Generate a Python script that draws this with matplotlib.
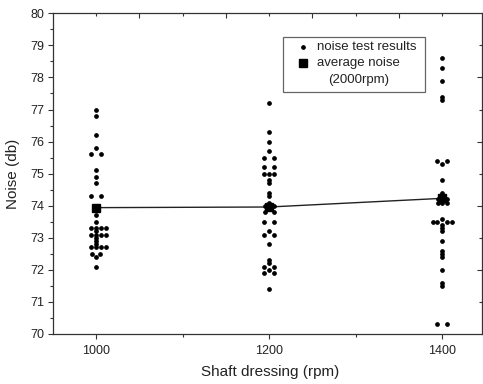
import matplotlib
matplotlib.use("Agg")
import matplotlib.pyplot as plt
from matplotlib.patches import Rectangle
from matplotlib.ticker import MultipleLocator, FixedLocator

plt.rcParams["font.family"] = ["Liberation Sans", "DejaVu Sans"]

# noise test results, (rpm, db); side offsets mark overlapping readings
rpm_1000 = [1000, 1000, 1000, 1000, 994.5, 1005.5, 1000, 1000, 1000, 994.5, 1005.5,
            1000, 1000, 994.5, 1000, 1005.5, 1011, 1000, 994.5, 1000, 1005.5, 1011,
            1000, 1000, 1000, 994.5, 1000, 1005.5, 1011, 995.5, 1004.5, 1000, 1000]
db_1000 = [77.0, 76.8, 76.2, 75.8, 75.6, 75.6, 75.1, 74.9, 74.7, 74.3, 74.3,
           73.7, 73.5, 73.3, 73.3, 73.3, 73.3, 73.2, 73.1, 73.1, 73.1, 73.1,
           73.0, 72.9, 72.8, 72.7, 72.7, 72.7, 72.7, 72.5, 72.5, 72.4, 72.1]

rpm_1200 = [1200, 1200, 1200, 1200, 1194.5, 1205.5, 1194.5, 1205.5, 1194.5, 1200, 1205.5,
            1200, 1200, 1200, 1200, 1200, 1200, 1195, 1205, 1200, 1195, 1205,
            1194.5, 1205.5, 1200, 1194.5, 1205.5, 1200, 1200, 1200, 1194.5, 1205.5,
            1200, 1194.5, 1205.5, 1200]
db_1200 = [77.2, 76.3, 76.0, 75.7, 75.5, 75.5, 75.2, 75.2, 75.0, 75.0, 75.0,
           74.8, 74.7, 74.4, 74.3, 74.1, 74.0, 74.0, 74.0, 73.9, 73.8, 73.8,
           73.5, 73.5, 73.2, 73.1, 73.1, 72.8, 72.3, 72.2, 72.1, 72.1,
           72.0, 71.9, 71.9, 71.4]

rpm_1400 = [1400, 1400, 1400, 1400, 1400, 1394.5, 1405.5, 1400, 1400, 1400, 1400,
            1395, 1405, 1395, 1400, 1405, 1400, 1389, 1394.5, 1405.5, 1411,
            1400, 1400, 1400, 1400, 1400, 1400, 1400, 1400, 1400, 1400,
            1394.5, 1405.5]
db_1400 = [78.6, 78.3, 77.9, 77.4, 77.3, 75.4, 75.4, 75.3, 74.8, 74.4, 74.3,
           74.2, 74.2, 74.1, 74.1, 74.1, 73.6, 73.5, 73.5, 73.5, 73.5,
           73.4, 73.3, 73.2, 72.9, 72.6, 72.5, 72.4, 72.0, 71.6, 71.5,
           70.3, 70.3]

# average noise (2000rpm)
avg_rpm = [1000, 1200, 1400]
avg_db = [73.94, 73.96, 74.23]

x_ticks = [1000, 1200, 1400]

fig = plt.figure(figsize=(4.83, 3.84), dpi=100)
ax = fig.add_axes([53 / 483, 50 / 384, 429 / 483, 320.7 / 384])

ax.plot(avg_rpm, avg_db, color="#222222", lw=1.0, zorder=2)
for xs, ys in [(rpm_1000, db_1000), (rpm_1200, db_1200), (rpm_1400, db_1400)]:
    ax.plot(xs, ys, ls="none", marker="o", ms=2.4, color="black", zorder=3)
ax.plot(avg_rpm, avg_db, ls="none", marker="s", ms=6, color="black", zorder=4)

ax.set_xlim(950, 1446)
ax.set_ylim(70, 80)

ax.xaxis.set_major_locator(FixedLocator(x_ticks))
ax.xaxis.set_minor_locator(FixedLocator([1100, 1300]))
ax.yaxis.set_major_locator(MultipleLocator(1))
ax.yaxis.set_minor_locator(MultipleLocator(0.5))
ax.tick_params(which="major", direction="out", length=3.5, width=0.8,
               color="#333333", labelsize=9, labelcolor="#222222")
ax.tick_params(which="minor", direction="out", length=2.2, width=0.8, color="#333333")
ax.tick_params(axis="x", pad=4.5)
ax.tick_params(axis="y", pad=3)

for sp in ax.spines.values():
    sp.set_color("#333333")
    sp.set_linewidth(0.9)

# mirrored ticks on top / right pointing inward
top = ax.secondary_xaxis("top")
top.xaxis.set_major_locator(FixedLocator([1050, 1150, 1250, 1350]))
top.xaxis.set_minor_locator(FixedLocator([1000, 1100, 1200, 1300, 1400]))
top.tick_params(which="major", direction="in", length=3.5, width=0.8, color="#333333",
                labeltop=False)
top.tick_params(which="minor", direction="in", length=2.2, width=0.8, color="#333333")
top.spines["top"].set_visible(False)

right = ax.secondary_yaxis("right")
right.yaxis.set_major_locator(FixedLocator([72, 74, 76, 78]))
right.yaxis.set_minor_locator(FixedLocator([71, 73, 75, 77, 79]))
right.tick_params(which="major", direction="in", length=3.5, width=0.8, color="#333333",
                  labelright=False)
right.tick_params(which="minor", direction="in", length=2.2, width=0.8, color="#333333")
right.spines["right"].set_visible(False)

ax.set_xlabel("Shaft dressing (rpm)", fontsize=11, color="#222222")
ax.set_ylabel("Noise (db)", fontsize=11, color="#222222")
ax.xaxis.set_label_coords(0.506, -0.098)
ax.yaxis.set_label_coords(-0.078, 0.5)

# legend box
ax.add_patch(Rectangle((0.536, 0.7546), 0.331, 0.1714, transform=ax.transAxes,
                       facecolor="white", edgecolor="#666666", lw=0.9, zorder=5))
ax.plot([0.583], [0.895], transform=ax.transAxes, marker="o", ms=2.4,
        color="black", zorder=6, clip_on=False)
ax.plot([0.583], [0.845], transform=ax.transAxes, marker="s", ms=6,
        color="black", zorder=6, clip_on=False)
ax.text(0.615, 0.895, "noise test results", transform=ax.transAxes, fontsize=9.5,
        va="center", ha="left", color="#222222", zorder=6)
ax.text(0.615, 0.845, "average noise", transform=ax.transAxes, fontsize=9.5,
        va="center", ha="left", color="#222222", zorder=6)
ax.text(0.641, 0.792, "(2000rpm)", transform=ax.transAxes, fontsize=9.5,
        va="center", ha="left", color="#222222", zorder=6)

fig.savefig("out.png", dpi=100)
